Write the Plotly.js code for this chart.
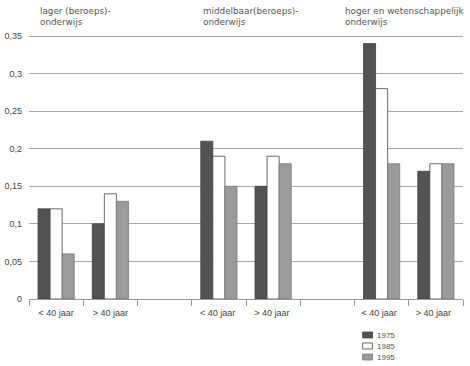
<!DOCTYPE html>
<html>
<head>
<meta charset="utf-8">
<script src="https://cdn.plot.ly/plotly-3.0.1.min.js"></script>
<style>html,body{margin:0;padding:0;background:#fff;}#chart{width:470px;height:366px;}</style>
</head>
<body>
<div id="chart"></div>
<script>
// Categories (spacer slots between the three education levels)
const slots = ["< 40 jaar", "> 40 jaar", " ", "< 40 jaar ", "> 40 jaar ", "  ", "< 40 jaar  ", "> 40 jaar  "];
const groupTitles = ["lager (beroeps)-<br>onderwijs", "middelbaar(beroeps)-<br>onderwijs", "hoger en wetenschappelijk<br>onderwijs"];
const years = ["1975", "1985", "1995"];
// values per year, in slot order (null = spacer)
const v1975 = [0.12, 0.10, null, 0.21, 0.15, null, 0.34, 0.17];
const v1985 = [0.12, 0.14, null, 0.19, 0.19, null, 0.28, 0.18];
const v1995 = [0.06, 0.13, null, 0.15, 0.18, null, 0.18, 0.18];
const yTicks = [0, 0.05, 0.1, 0.15, 0.2, 0.25, 0.3, 0.35];
const yTickText = ["0", "0,05", "0,1", "0,15", "0,2", "0,25", "0,3", "0,35"];

const fills = ["#535353", "#ffffff", "#9b9b9b"];
const lines = ["#444444", "#444444", "#777777"];
const series = [v1975, v1985, v1995];
const legendIds = ["legend", "legend2", "legend3"];

const traces = series.map((vals, i) => ({
  type: "bar",
  name: years[i],
  x: slots,
  y: vals,
  legend: legendIds[i],
  marker: {color: fills[i], line: {color: lines[i], width: 0.8}},
  hoverinfo: "skip"
}));

const font = {family: "Liberation Sans, Arial, sans-serif", size: 9, color: "#444"};
const legendY = [0.0899, 0.058, 0.0261];
const legendBase = {
  x: 0.7097, xanchor: "left", yanchor: "middle",
  font: {family: font.family, size: 8, color: "#555"},
  bgcolor: "rgba(0,0,0,0)", itemwidth: 30
};

const layout = {
  width: 470, height: 366,
  margin: {l: 29, r: 7, t: 21, b: 0, autoexpand: false},
  paper_bgcolor: "#fff", plot_bgcolor: "#fff",
  font: font,
  barmode: "group",
  bargap: 0.333,
  bargroupgap: 0,
  showlegend: true,
  legend: Object.assign({}, legendBase, {y: legendY[0]}),
  legend2: Object.assign({}, legendBase, {y: legendY[1]}),
  legend3: Object.assign({}, legendBase, {y: legendY[2]}),
  xaxis: {
    type: "category",
    categoryorder: "array", categoryarray: slots,
    range: [-0.5, 7.5],
    tickson: "boundaries",
    ticks: "outside", ticklen: 6, tickcolor: "#999", tickwidth: 1,
    showline: true, linecolor: "#999", linewidth: 1,
    showgrid: false, zeroline: false,
    ticklabelstandoff: 5,
    tickfont: {family: font.family, size: 9, color: "#444"},
    fixedrange: true
  },
  yaxis: {
    domain: [0.1942, 1],
    range: [0, 0.37],
    tickmode: "array", tickvals: yTicks, ticktext: yTickText,
    showgrid: true, gridcolor: "#a8a8a8", gridwidth: 1,
    zeroline: false, showline: false, ticks: "",
    ticklabelstandoff: 6,
    tickfont: {family: font.family, size: 9, color: "#444"},
    fixedrange: true
  },
  annotations: groupTitles.map((t, i) => ({
    text: t, xref: "paper", yref: "paper",
    x: [0.021, 0.396, 0.724][i], y: 1.048,
    xanchor: "left", yanchor: "top", align: "left", showarrow: false,
    font: {family: "DejaVu Sans, sans-serif", size: 8.8, color: "#555"}
  }))
};

Plotly.newPlot("chart", traces, layout, {displayModeBar: false, staticPlot: true}).then(gd => {
  // make legend swatches small, flat rectangles placed next to the text
  gd.querySelectorAll(".legendpoints path").forEach(p => {
    const t = p.getAttribute("transform") || "";
    p.setAttribute("transform", "translate(14,0) scale(0.83,0.5) " + t);
    p.setAttribute("vector-effect", "non-scaling-stroke");
  });
});
</script>
</body>
</html>
